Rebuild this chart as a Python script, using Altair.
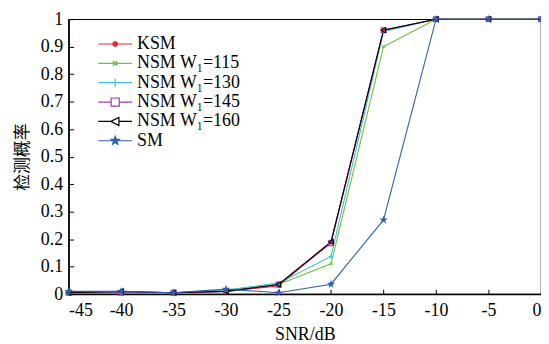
import altair as alt
import pandas as pd

snr = [-45, -40, -35, -30, -25, -20, -15, -10, -5, 0]
series_names = ["KSM", "NSM W₁=115", "NSM W₁=130", "NSM W₁=145", "NSM W₁=160", "SM"]
ksm = [0.005, 0.005, 0.005, 0.01, 0.03, 0.19, 0.96, 1, 1, 1]
nsm115 = [0.01, 0.005, 0.005, 0.015, 0.035, 0.11, 0.90, 1, 1, 1]
nsm130 = [0.01, 0.005, 0.005, 0.015, 0.04, 0.137, 0.955, 1, 1, 1]
nsm145 = [0.005, 0.005, 0.005, 0.01, 0.035, 0.185, 0.96, 1, 1, 1]
nsm160 = [0.005, 0.01, 0.005, 0.01, 0.035, 0.19, 0.96, 1, 1, 1]
sm = [0.01, 0.01, 0.005, 0.018, 0.005, 0.036, 0.27, 1, 1, 1]
y_ticks = [0, 0.1, 0.2, 0.3, 0.4, 0.5, 0.6, 0.7, 0.8, 0.9, 1]
x_ticks = [-45, -40, -35, -30, -25, -20, -15, -10, -5, 0]

colors = ["#e8262a", "#72c33c", "#3cc0d8", "#9b3fa8", "#000000", "#2f5fae"]
fills = ["#e8262a", "transparent", "transparent", "transparent", "transparent", "#2f5fae"]
star = "M0,-1L0.24,-0.33L0.95,-0.31L0.38,0.12L0.59,0.81L0,0.4L-0.59,0.81L-0.38,0.12L-0.95,-0.31L-0.24,-0.33Z"
shapes = ["circle", "M-0.7,-0.7L0.7,0.7M-0.7,0.7L0.7,-0.7", "M-1,0L1,0M0,-1L0,1",
          "square", "triangle-left", star]
sizes = [12, 30, 40, 40, 45, 45]


def scaled(path, k):
    out = []
    num = ""
    for ch in path + " ":
        if ch.isdigit() or ch in ".-":
            if ch == "-" and num:
                out.append(f"{float(num) * k:.3f}")
                num = ""
            num += ch
        else:
            if num:
                out.append(f"{float(num) * k:.3f}")
                num = ""
            if ch.strip():
                out.append(ch)
    return "".join(out).replace("M", " M").replace("L", " L").strip()


r_dot = 0.13
legend_shapes = [
    f"M-1,0L1,0M{r_dot},0A{r_dot},{r_dot} 0 1,1 {-r_dot},0A{r_dot},{r_dot} 0 1,1 {r_dot},0Z",
    "M-1,0L1,0 " + scaled(shapes[1], 0.2),
    "M-1,0L1,0 " + scaled(shapes[2], 0.24),
    "M-1,0L-0.24,0M0.24,0L1,0M-0.24,-0.24L0.24,-0.24L0.24,0.24L-0.24,0.24Z",
    "M-1,0L-0.26,0M0.22,0L1,0M-0.26,0L0.22,-0.24L0.22,0.24Z",
    "M-1,0L1,0 " + scaled(star, 0.26),
]

rows = []
for name, vals in zip(series_names, [ksm, nsm115, nsm130, nsm145, nsm160, sm]):
    for x, y in zip(snr, vals):
        rows.append({"snr": x, "p": y, "series": name})
df = pd.DataFrame(rows)

font = "Liberation Serif"
xscale = alt.Scale(domain=[-45, 0], nice=False)
yscale = alt.Scale(domain=[0, 1], nice=False)

lines = alt.Chart(df).mark_line(strokeWidth=1.1).encode(
    x=alt.X("snr:Q", scale=xscale,
            axis=alt.Axis(title="SNR/dB", values=x_ticks, ticks=False,
                          labelExpr="'' + datum.value", labelFont=font, labelFontSize=18,
                          labelColor="black", titleFont=font, titleFontSize=18,
                          titleFontWeight="normal", titleColor="black", domainColor="black",
                          domainWidth=1.5, grid=False, labelPadding=8, titlePadding=6)),
    y=alt.Y("p:Q", scale=yscale,
            axis=alt.Axis(title="检测概率", values=y_ticks, ticks=False,
                          labelExpr="'' + datum.value", labelFont=font, labelFontSize=18,
                          labelColor="black", titleFont="Noto Sans CJK SC", titleFontSize=17,
                          titleFontWeight="normal", titleColor="black", domainColor="black",
                          domainWidth=1.5, grid=False, labelPadding=6, titlePadding=9)),
    stroke=alt.Stroke("series:N", scale=alt.Scale(domain=series_names, range=colors), legend=None),
    detail="series:N",
    order="snr:Q",
)

points = alt.Chart(df).mark_point(strokeWidth=1.1, opacity=1).encode(
    x=alt.X("snr:Q", scale=xscale,
            axis=alt.Axis(orient="top", offset=-277, values=x_ticks, labels=False, domain=False,
                          ticks=True, tickSize=5, tickColor="black", grid=False, title=None)),
    y=alt.Y("p:Q", scale=yscale,
            axis=alt.Axis(orient="right", offset=-476, values=y_ticks, labels=False, domain=False,
                          ticks=True, tickSize=5, tickColor="black", grid=False, title=None)),
    stroke=alt.Stroke("series:N", scale=alt.Scale(domain=series_names, range=colors), legend=None),
    fill=alt.Fill("series:N", scale=alt.Scale(domain=series_names, range=fills), legend=None),
    shape=alt.Shape("series:N", scale=alt.Scale(domain=series_names, range=shapes), legend=None),
    size=alt.Size("series:N", scale=alt.Scale(domain=series_names, range=sizes), legend=None),
)

legend = alt.Legend(title=None, orient="none", legendX=29, legendY=16,
                    labelFont=font, labelFontSize=18, labelColor="black",
                    rowPadding=1.5, clipHeight=18, symbolStrokeWidth=1.2, labelOffset=4,
                    symbolSize=1156, symbolOpacity=1)

legend_layer = alt.Chart(df).mark_point(strokeWidth=1.2, opacity=1).encode(
    x=alt.X("snr:Q", scale=xscale, axis=None),
    y=alt.Y("p:Q", scale=yscale, axis=None),
    stroke=alt.Stroke("series:N", scale=alt.Scale(domain=series_names, range=colors), legend=legend),
    fill=alt.Fill("series:N", scale=alt.Scale(domain=series_names, range=fills), legend=legend),
    shape=alt.Shape("series:N", scale=alt.Scale(domain=series_names, range=legend_shapes), legend=legend),
).transform_filter("datum.p > 2")

chart = alt.layer(lines, points, legend_layer).resolve_axis(
    x="independent", y="independent"
).resolve_scale(
    stroke="independent", fill="independent", shape="independent", size="independent"
).properties(
    width=476, height=277,
    autosize=alt.AutoSizeParams(type="none"),
    padding={"left": 61, "top": 10, "right": 0, "bottom": 48},
    background="white",
).configure_view(stroke="black", strokeWidth=1.2)

chart.save("out.html", embed_options={"renderer": "svg", "actions": False})
